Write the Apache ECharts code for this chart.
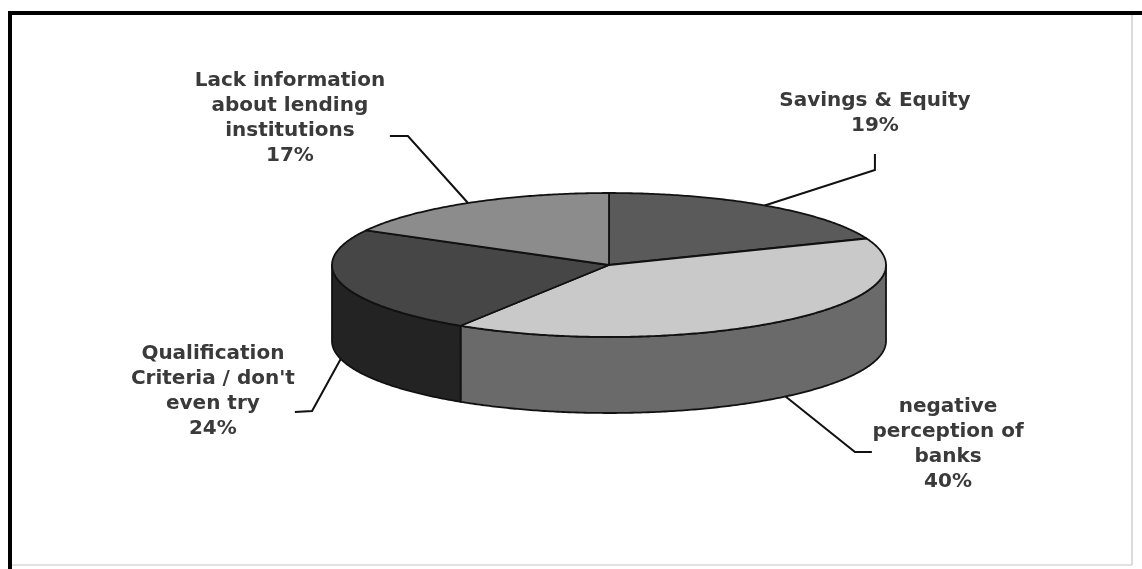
<!DOCTYPE html>
<html><head><meta charset="utf-8">
<script src="https://cdn.jsdelivr.net/npm/echarts@6/dist/echarts.min.js"></script>
<style>html,body{margin:0;padding:0;background:#fff}#c{width:1142px;height:569px}</style>
</head><body><div id="c"></div>
<script>
// ---- data ----
const categories = ['Savings & Equity', 'negative perception of banks', "Qualification Criteria / don't even try", 'Lack information about lending institutions'];
const labelTexts = ['Savings & Equity', 'negative\nperception of\nbanks', "Qualification\nCriteria / don't\neven try", 'Lack information\nabout lending\ninstitutions'];
const values = [19, 40, 24, 17];

// ---- styling / layout (not data) ----
const DEPTH = 1.056;                 // side height in units of the ellipse's vertical radius
const topColors  = ['#5a5a5a', '#c9c9c9', '#464646', '#8c8c8c'];
const sideColors = ['#3e3e3e', '#6a6a6a', '#232323', '#5e5e5e'];
// label centres and leader bends, in the pie's own unit space
const labelPos = [[0.96, 2.11], [1.224, -2.486], [-1.43, -1.757], [-1.152, 2.042]];
const leaderBend = [[[0.960, 1.319], [0.960, 1.542]], [[0.888, -2.597], [0.949, -2.597]], [[-1.072, -2.028], [-1.134, -2.042]], [[-0.726, 1.792], [-0.791, 1.792]]];

const total = values.reduce((a, b) => a + b, 0);

function renderItem(params, api) {
  const i = params.dataIndex;
  const v = api.value(1);
  let start = 0;
  for (let k = 0; k < i; k++) start += values[k];
  const a0 = start / total * 2 * Math.PI, a1 = (start + v) / total * 2 * Math.PI;
  const P = (a, dy) => api.coord([Math.sin(a), Math.cos(a) - (dy || 0)]);
  const children = [];
  // side wall (front half only)
  const lo = Math.max(a0, Math.PI / 2), hi = Math.min(a1, 1.5 * Math.PI);
  if (hi > lo) {
    const pts = [];
    const n = Math.max(2, Math.ceil((hi - lo) / 0.01));
    for (let k = 0; k <= n; k++) pts.push(P(lo + (hi - lo) * k / n));
    for (let k = n; k >= 0; k--) pts.push(P(lo + (hi - lo) * k / n, DEPTH));
    children.push({type: 'polygon', shape: {points: pts},
      style: {fill: sideColors[i], stroke: '#111', lineWidth: 1.8, lineJoin: 'round'}});
  }
  // top face
  const tp = [api.coord([0, 0])];
  const n2 = Math.max(2, Math.ceil((a1 - a0) / 0.01));
  for (let k = 0; k <= n2; k++) tp.push(P(a0 + (a1 - a0) * k / n2));
  children.push({type: 'polygon', shape: {points: tp},
    style: {fill: topColors[i], stroke: '#111', lineWidth: 1.8, lineJoin: 'round'}});
  // leader line
  const am = (a0 + a1) / 2;
  const front = Math.cos(am) < 0;
  const anchor = P(am, front ? DEPTH : 0);
  const lp = [anchor].concat(leaderBend[i].map(p => api.coord(p)));
  children.push({type: 'polyline', shape: {points: lp},
    style: {stroke: '#111', lineWidth: 2, fill: null}, z2: 10});
  const c = api.coord(labelPos[i]);
  children.push({type: 'text', z2: 10, style: {
    text: labelTexts[i] + '\n' + v + '%', x: c[0], y: c[1],
    align: 'center', verticalAlign: 'middle', fill: '#3a3a3a',
    fontFamily: 'DejaVu Sans', fontWeight: 'bold', fontSize: 20, lineHeight: 25}});
  return {type: 'group', children};
}

const chart = echarts.init(document.getElementById('c'), null, {renderer: 'canvas'});
chart.setOption({
  animation: false,
  backgroundColor: '#fff',
  grid: {left: 332, right: 256, top: 193, bottom: 156},
  xAxis: {type: 'value', min: -1, max: 1, show: false},
  yAxis: {type: 'value', min: -(1 + DEPTH), max: 1, show: false},
  graphic: [
    {type: 'line', shape: {x1: 8, y1: 13, x2: 1142, y2: 13}, style: {stroke: '#000', lineWidth: 4}},
    {type: 'line', shape: {x1: 10, y1: 11, x2: 10, y2: 569}, style: {stroke: '#000', lineWidth: 4}},
    {type: 'line', shape: {x1: 1132, y1: 15, x2: 1132, y2: 565}, style: {stroke: '#d0d0d0', lineWidth: 1.5}},
    {type: 'line', shape: {x1: 12, y1: 565, x2: 1132, y2: 565}, style: {stroke: '#d8d8d8', lineWidth: 1.5}}
  ],
  series: [{
    type: 'custom', name: 'Reasons', clip: false,
    renderItem: renderItem,
    encode: {x: 0, y: 1, itemName: 2},
    data: values.map((v, i) => [i, v, categories[i]])
  }]
});
</script></body></html>
